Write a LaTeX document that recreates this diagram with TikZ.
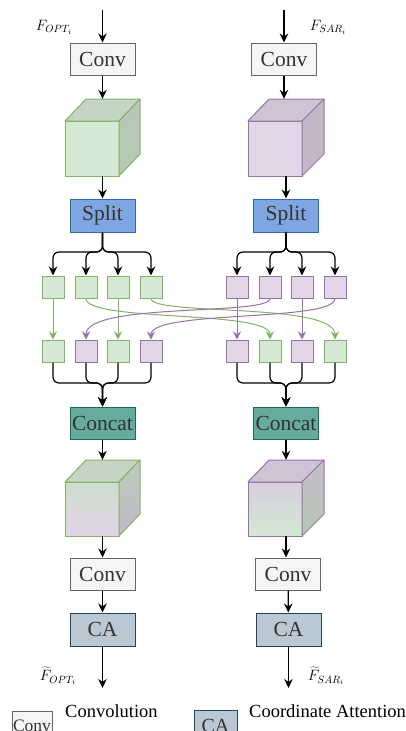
\RequirePackage{fix-cm}
\documentclass[tikz,border=0pt]{standalone}
\usepackage{fontspec}
\setmainfont{Liberation Serif}
\usetikzlibrary{arrows.meta}

\definecolor{convFill}{HTML}{F5F5F5}
\definecolor{convDraw}{HTML}{666666}
\definecolor{boxText}{HTML}{333333}
\definecolor{splitFill}{HTML}{7EA6E0}
\definecolor{splitDraw}{HTML}{2B6BB5}
\definecolor{concatFill}{HTML}{67AB9F}
\definecolor{concatDraw}{HTML}{16704A}
\definecolor{caFill}{HTML}{BAC8D3}
\definecolor{caDraw}{HTML}{23445D}
\definecolor{optFill}{HTML}{D5E8D4}
\definecolor{optDraw}{HTML}{82B366}
\definecolor{sarFill}{HTML}{E1D5E7}
\definecolor{sarDraw}{HTML}{9673A6}

\begin{document}
\begin{tikzpicture}[x=1pt,y=-1pt,
  box/.style={draw,line width=1pt,minimum width=65pt,minimum height=32pt,inner sep=0pt,
    text=boxText,font=\fontsize{21.5}{24}\selectfont},
  convbox/.style={box,draw=convDraw,fill=convFill},
  splitbox/.style={box,draw=splitDraw,fill=splitFill,minimum height=33pt},
  concatbox/.style={box,draw=concatDraw,fill=concatFill},
  cabox/.style={box,draw=caDraw,fill=caFill,minimum height=33pt},
  cubebox/.style={minimum width=76pt,minimum height=77pt,inner sep=0pt},
  optsq/.style={draw=optDraw,fill=optFill,line width=1pt,minimum size=22pt,inner sep=0pt},
  sarsq/.style={draw=sarDraw,fill=sarFill,line width=1pt,minimum size=22pt,inner sep=0pt},
  arr/.style={-{Stealth[length=9pt,width=8.5pt]},line width=1.2pt},
  optarr/.style={-{Stealth[length=8pt,width=8pt]},line width=1pt,draw=optDraw},
  sararr/.style={-{Stealth[length=8pt,width=8pt]},line width=1pt,draw=sarDraw},
  lbl/.style={inner sep=0pt,font=\fontsize{15}{18}\selectfont},
  legtext/.style={anchor=base west,inner sep=0pt,font=\fontsize{18.5}{22}\selectfont}]
\path[use as bounding box,fill=white] (0,0) rectangle (406,731);

% ---- left branch (OPT)
\coordinate (inL) at (102.5,10);
\node[convbox] (convL) at (102.5,59) {Conv};
\node[cubebox] (cubeL) at (102.5,137.5) {};
\node[splitbox] (splitL) at (102.5,215.5) {Split};
\node[optsq] (lt1) at ( 53,287) {};
\node[optsq] (lt2) at ( 86,287) {};
\node[optsq] (lt3) at (118,287) {};
\node[optsq] (lt4) at (151,287) {};
\node[optsq] (lb1) at ( 53,351) {};
\node[sarsq] (lb2) at ( 86,351) {};
\node[optsq] (lb3) at (118,351) {};
\node[sarsq] (lb4) at (151,351) {};
\node[concatbox] (concatL) at (102.5,423) {Concat};
\node[cubebox,minimum height=76pt] (cube2L) at (102.5,498) {};
\node[convbox] (conv2L) at (102.5,574) {Conv};
\node[cabox] (caL) at (102.5,629.5) {CA};
\coordinate (outL) at (102.5,688);

% ---- right branch (SAR)
\coordinate (inR) at (284,10);
\node[convbox] (convR) at (284,59) {Conv};
\node[cubebox] (cubeR) at (286,137.5) {};
\node[splitbox] (splitR) at (286,215.5) {Split};
\node[sarsq] (rt1) at (237,287) {};
\node[sarsq] (rt2) at (270,287) {};
\node[sarsq] (rt3) at (302,287) {};
\node[sarsq] (rt4) at (335,287) {};
\node[sarsq] (rb1) at (237,351) {};
\node[optsq] (rb2) at (270,351) {};
\node[sarsq] (rb3) at (302,351) {};
\node[optsq] (rb4) at (335,351) {};
\node[concatbox] (concatR) at (286,423) {Concat};
\node[cubebox,minimum height=76pt] (cube2R) at (286,498) {};
\node[convbox] (conv2R) at (288,574) {Conv};
\node[cabox] (caR) at (288.5,629.5) {CA};
\coordinate (outR) at (288.5,688);

% ---- cubes
\begin{scope}[draw=optDraw,line width=1pt,line join=round]
\path[draw,fill=optFill] (65,121) rectangle (119,176);
\path[draw,fill=optFill!92!black] (65,121) -- (86,99) -- (140,99) -- (119,121) -- cycle;
\path[draw,fill=optFill!86!black] (119,121) -- (140,99) -- (140,154) -- (119,176) -- cycle;
\shade[top color=optFill!90!sarFill!96!black,bottom color=sarFill] (65,482) rectangle (119,536);
\path[draw] (65,482) rectangle (119,536);
\path[draw,fill=optFill!92!black] (65,482) -- (86,460) -- (140,460) -- (119,482) -- cycle;
\shade[top color=optFill!88!black,bottom color=sarFill!86!black] (119,482) -- (140,460) -- (140,514) -- (119,536) -- cycle;
\path[draw] (119,482) -- (140,460) -- (140,514) -- (119,536) -- cycle;
\end{scope}
\begin{scope}[draw=sarDraw,line width=1pt,line join=round]
\path[draw,fill=sarFill] (248,121) rectangle (302,176);
\path[draw,fill=sarFill!92!black] (248,121) -- (269,99) -- (324,99) -- (302,121) -- cycle;
\path[draw,fill=sarFill!86!black] (302,121) -- (324,99) -- (324,154) -- (302,176) -- cycle;
\shade[top color=sarFill!90!optFill!96!black,bottom color=optFill] (248,482) rectangle (302,536);
\path[draw] (248,482) rectangle (302,536);
\path[draw,fill=sarFill!92!black] (248,482) -- (269,460) -- (324,460) -- (302,482) -- cycle;
\shade[top color=sarFill!88!black,bottom color=optFill!86!black] (302,482) -- (324,460) -- (324,514) -- (302,536) -- cycle;
\path[draw] (302,482) -- (324,460) -- (324,514) -- (302,536) -- cycle;
\end{scope}

% ---- black connectors
\draw[arr] (inL) -- (convL);
\draw[arr] (convL) -- (cubeL);
\draw[arr] (cubeL) -- (splitL);
\foreach \s in {lt1,lt2,lt3,lt4}
  \draw[arr,rounded corners=6pt] (splitL.south) -- (102.5,252) -| (\s.north);
\foreach \s in {lb1,lb2,lb3,lb4}
  \draw[arr,rounded corners=6pt] (\s.south) |- (102.5,383) -- (concatL.north);
\draw[arr] (concatL) -- (cube2L);
\draw[arr] (cube2L) -- (conv2L);
\draw[arr] (conv2L) -- (caL);
\draw[arr] (caL) -- (outL);

\draw[arr] (inR) -- (convR);
\draw[arr] (convR.south) -- (convR.south |- cubeR.north);
\draw[arr] (cubeR) -- (splitR);
\foreach \s in {rt1,rt2,rt3,rt4}
  \draw[arr,rounded corners=6pt] (splitR.south) -- (286,252) -| (\s.north);
\foreach \s in {rb1,rb2,rb3,rb4}
  \draw[arr,rounded corners=6pt] (\s.south) |- (286,383) -- (concatR.north);
\draw[arr] (concatR) -- (cube2R);
\draw[arr] (cube2R.south) -- (cube2R.south |- conv2R.north);
\draw[arr] (conv2R) -- (caR);
\draw[arr] (caR) -- (outR);

% ---- exchange
\draw[optarr] (lt1) -- (lb1);
\draw[optarr] (lt3) -- (lb3);
\draw[sararr] (rt1) -- (rb1);
\draw[sararr] (rt3) -- (rb3);
\draw[optarr] (lt2.south) .. controls (86,322) and (270,310) .. (rb2.north);
\draw[optarr] (lt4.south) .. controls (151,316) and (335,302) .. (rb4.north);
\draw[sararr] (rt2.south) .. controls (270,316) and (86,302) .. (lb2.north);
\draw[sararr] (rt4.south) .. controls (335,322) and (151,310) .. (lb4.north);

% ---- labels
\node[lbl] (fOpt) at (54,27) {$F_{OPT_i}$};
\node[lbl] (fSar) at (328,27) {$F_{SAR_i}$};
\node[lbl] (fOptOut) at (58,676) {$\widetilde{F}_{OPT_i}$};
\node[lbl] (fSarOut) at (326,676) {$\widetilde{F}_{SAR_i}$};

% ---- legend
\node[convbox,minimum width=40pt,minimum height=30pt,font=\fontsize{17.5}{20}\selectfont] (legConv) at (32,726) {Conv};
\node[legtext] (legConvText) at (65,717) {Convolution};
\node[cabox,minimum width=43pt,minimum height=31pt,font=\fontsize{20}{22}\selectfont] (legCA) at (215.5,725.5) {CA};
\node[legtext] (legCAText) at (249,717) {Coordinate Attention};
\end{tikzpicture}
\end{document}
